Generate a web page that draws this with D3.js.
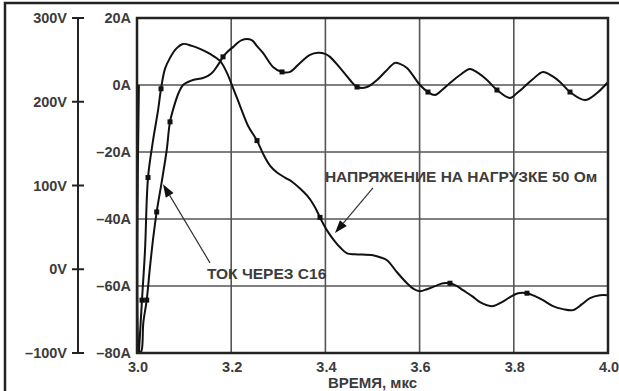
<!DOCTYPE html>
<html>
<head>
<meta charset="utf-8">
<script src="https://cdn.jsdelivr.net/npm/d3@7"></script>
<style>
  body { margin: 0; background: #fff; }
  svg text { font-family: "Liberation Sans", Arial, sans-serif; font-weight: bold; fill: #3c3c3c; }
</style>
</head>
<body>
<svg id="chart" width="619" height="391"></svg>
<script>
// Data
const timeTicks = [3.0, 3.2, 3.4, 3.6, 3.8, 4.0]
const currentTicks = [20, 0, -20, -40, -60, -80]
const voltTicks = [300, 200, 100, 0, -100]

// Voltage across 50 Ohm load (V)
const voltTime = [3.004, 3.0106, 3.017, 3.0234, 3.034, 3.0446, 3.051, 3.0594, 3.0701, 3.0828, 3.0977,
  3.1168, 3.1338, 3.155, 3.1762, 3.189, 3.2038, 3.2187, 3.2357, 3.2548, 3.2675, 3.2824, 3.2972,
  3.3142, 3.3312, 3.3461, 3.3609, 3.3758, 3.3885, 3.4034, 3.4183, 3.431, 3.4459, 3.4628, 3.5011,
  3.5159, 3.5308, 3.552, 3.5732, 3.5881, 3.6008, 3.6157, 3.6327, 3.6497, 3.6645, 3.6794, 3.6921,
  3.7113, 3.7282, 3.7431, 3.7558, 3.7749, 3.7919, 3.8089, 3.828, 3.845, 3.862, 3.8832, 3.9045,
  3.9257, 3.9448, 3.9618, 3.983, 4.0]
const voltValue = [-100, -36.9, 22.6, 109.5, 153.6, 189.3, 215.5, 239.3, 252.4, 263.1, 269,
  266.7, 263.1, 257.1, 248.8, 236.9, 216.7, 195.2, 171.4, 153.6, 138.1, 123.8, 115.5,
  109.5, 103.6, 96.4, 88.1, 76.2, 61.9, 46.4, 34.5, 26.2, 19, 17.9, 16.7,
  14.3, 10.7, -3.6, -16.7, -23.8, -26.2, -23.8, -20.2, -16.7, -16.7, -20.2, -25,
  -32.1, -39.3, -42.9, -44, -39.3, -33.3, -28.6, -28.6, -32.1, -36.9, -44, -47.6,
  -48.8, -41.7, -34.5, -31, -31]
const voltMarks = [1, 3, 6, 19, 28, 44, 54]

// Current through C16 (A)
const currTime = [3.004, 3.006, 3.01, 3.0134, 3.0206, 3.0276, 3.0346, 3.0418, 3.0524, 3.0631, 3.0701,
  3.0807, 3.0892, 3.0977, 3.1083, 3.1189, 3.1401, 3.1507, 3.1614, 3.172, 3.1826, 3.1932, 3.2038,
  3.2223, 3.2435, 3.2548, 3.2675, 3.2887, 3.3079, 3.3248, 3.3461, 3.3673, 3.3843, 3.3992, 3.4098,
  3.431, 3.4522, 3.4671, 3.4883, 3.5096, 3.5287, 3.5478, 3.5584, 3.5732, 3.6008, 3.6178, 3.6327,
  3.6476, 3.6645, 3.6858, 3.707, 3.724, 3.7431, 3.7643, 3.7919, 3.8068, 3.8195, 3.8408, 3.862,
  3.8811, 3.8981, 3.9193, 3.9512, 3.9766, 4.0]
const currValue = [0, -80, -79.1, -71, -64.2, -54.3, -45.4, -37.9, -29, -19.4, -11,
  -5.4, -2.1, 0, 0.9, 1.5, 2.1, 2.7, 3.9, 6, 8.4, 10.1, 11.3,
  13.4, 13.4, 11.6, 9.6, 5.4, 3.9, 3.9, 6.6, 9, 9.6, 9.3, 8.4,
  5.1, 1.5, -0.6, -0.6, 1.5, 4.2, 6.6, 6.3, 5.1, 0, -2.1, -3,
  -1.5, 0.6, 3, 4.8, 3.6, 1.5, -1.5, -3.9, -2.4, -0.9, 1.8, 3.9,
  2.7, 0.9, -2.1, -4.5, -2.4, 0.9]
const currMarks = [4, 7, 10, 20, 28, 37, 45, 53, 61]

const svg = d3.select('#chart')

// Outer frame
svg.append('path')
    .attr('d', 'M5,400 L5,3 L630,3')
    .attr('fill', 'none')
    .attr('stroke', '#222')
    .attr('stroke-width', 2.5)

const x = d3.scaleLinear().domain([3.0, 4.0]).range([137, 608])
const yA = d3.scaleLinear().domain([-80, 20]).range([353, 18])
const yV = d3.scaleLinear().domain([-100, 300]).range([353, 18])

// Grid
const grid = svg.append('g')
grid.selectAll('.vg').data(timeTicks.slice(1, -1)).join('line')
    .attr('x1', d => x(d)).attr('x2', d => x(d))
    .attr('y1', yA(20)).attr('y2', yA(-80))
    .attr('stroke', '#555').attr('stroke-width', 1.6)
grid.selectAll('.hg').data(currentTicks.slice(1, -1)).join('line')
    .attr('x1', x(3.0)).attr('x2', x(4.0))
    .attr('y1', d => yA(d)).attr('y2', d => yA(d))
    .attr('stroke', '#555').attr('stroke-width', 1.6)

// Tick labels, time
svg.selectAll('.xt').data(timeTicks).join('text')
    .attr('x', d => x(d) + 1)
    .attr('y', 367)
    .attr('dy', '0.35em')
    .attr('text-anchor', 'middle')
    .attr('font-size', 14.5)
    .text(d => d.toFixed(1))

svg.append('text')
    .attr('x', (x(3.0) + x(4.0)) / 2)
    .attr('y', 383)
    .attr('dy', '0.35em')
    .attr('text-anchor', 'middle')
    .attr('font-size', 15)
    .text('ВРЕМЯ, мкс')

// Current labels
const fmtA = d => (d < 0 ? '–' + Math.abs(d) : d) + 'A'
svg.selectAll('.ya').data(currentTicks).join('text')
    .attr('x', 131)
    .attr('y', d => yA(d))
    .attr('dy', '0.35em')
    .attr('text-anchor', 'end')
    .attr('font-size', 14.5)
    .text(fmtA)

// Voltage axis
const vAxisX = 78
svg.append('line')
    .attr('x1', vAxisX).attr('x2', vAxisX)
    .attr('y1', yV(300)).attr('y2', yV(-100))
    .attr('stroke', '#222').attr('stroke-width', 2)
svg.selectAll('.vt').data(voltTicks).join('line')
    .attr('x1', vAxisX - 6).attr('x2', vAxisX + 6)
    .attr('y1', d => yV(d)).attr('y2', d => yV(d))
    .attr('stroke', '#222').attr('stroke-width', 2)
svg.selectAll('.vl').data(voltTicks).join('text')
    .attr('x', 67)
    .attr('y', d => yV(d))
    .attr('dy', '0.35em')
    .attr('text-anchor', 'end')
    .attr('font-size', 14.5)
    .text(d => (d < 0 ? '–' + Math.abs(d) : d) + 'V')

// Curves
const lineV = d3.line().x(d => x(d[0])).y(d => yV(d[1])).curve(d3.curveCatmullRom.alpha(0.5))
const lineA = d3.line().x(d => x(d[0])).y(d => yA(d[1])).curve(d3.curveCatmullRom.alpha(0.5))
const voltPts = voltTime.map((t, i) => [t, voltValue[i]])
const currPts = currTime.map((t, i) => [t, currValue[i]])

const plot = svg.append('g')
plot.append('path').attr('d', lineV(voltPts))
    .attr('fill', 'none').attr('stroke', '#111').attr('stroke-width', 2)
plot.append('path').attr('d', lineA(currPts))
    .attr('fill', 'none').attr('stroke', '#111').attr('stroke-width', 2)

plot.selectAll('.mv').data(voltMarks.map(i => voltPts[i])).join('rect')
    .attr('x', d => x(d[0]) - 2.5).attr('y', d => yV(d[1]) - 2.5)
    .attr('width', 5).attr('height', 5).attr('fill', '#111')
plot.selectAll('.ma').data(currMarks.map(i => currPts[i])).join('rect')
    .attr('x', d => x(d[0]) - 2.5).attr('y', d => yA(d[1]) - 2.5)
    .attr('width', 5).attr('height', 5).attr('fill', '#111')

// Plot frame
svg.append('rect')
    .attr('x', x(3.0)).attr('y', yA(20))
    .attr('width', x(4.0) - x(3.0)).attr('height', yA(-80) - yA(20))
    .attr('fill', 'none').attr('stroke', '#222').attr('stroke-width', 2.5)

// Annotations (in data units, current axis)
function arrow(from, to) {
    const x1 = x(from[0]), y1 = yA(from[1]), x2 = x(to[0]), y2 = yA(to[1])
    const ang = Math.atan2(y2 - y1, x2 - x1)
    const len = 13, half = 4.5
    const bx = x2 - len * Math.cos(ang), by = y2 - len * Math.sin(ang)
    svg.append('line')
        .attr('x1', x1).attr('y1', y1).attr('x2', bx).attr('y2', by)
        .attr('stroke', '#333').attr('stroke-width', 1.2)
    svg.append('path')
        .attr('d', `M${x2},${y2} L${bx + half * Math.sin(ang)},${by - half * Math.cos(ang)} L${bx - half * Math.sin(ang)},${by + half * Math.cos(ang)} Z`)
        .attr('fill', '#111')
}

svg.append('text')
    .attr('x', x(3.399)).attr('y', yA(-27.2))
    .attr('dy', '0.35em')
    .attr('font-size', 15.5)
    .text('НАПРЯЖЕНИЕ НА НАГРУЗКЕ 50 Ом')
arrow([3.501, -30.7], [3.4204, -44.2])

svg.append('text')
    .attr('x', x(3.1486)).attr('y', yA(-56.4))
    .attr('dy', '0.35em')
    .attr('font-size', 15.5)
    .text('ТОК ЧЕРЕЗ С16')
arrow([3.155, -53.1], [3.0552, -29.6])
</script>
</body>
</html>
